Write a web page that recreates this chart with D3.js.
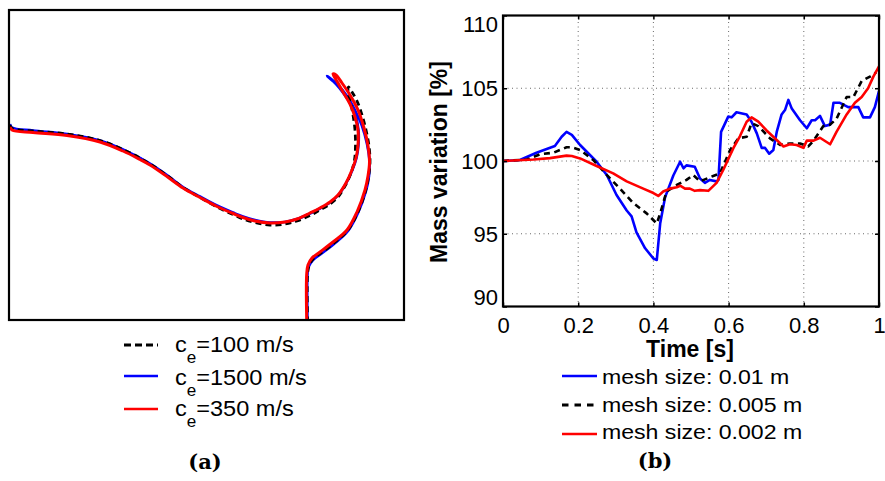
<!DOCTYPE html>
<html><head><meta charset="utf-8">
<script src="https://cdn.jsdelivr.net/npm/d3@7"></script>
<style>
body{margin:0;background:#fff}
svg{display:block}
text{font-family:"Liberation Sans",Arial,Helvetica,sans-serif;fill:#000}
</style>
</head><body>
<svg id="chart" width="885" height="481"></svg>
<script>
// ---------- Panel (a): free-surface shapes (arbitrary length units) ----------
const shapeCe100 = [[0.01,1.95],[0.03,1.915],[0.24,1.89],[0.58,1.86],[0.91,1.795],[1.14,1.705],[1.31,1.62],[1.41,1.56],[1.58,1.445],[1.74,1.325],[1.91,1.225],[2.08,1.13],[2.24,1.055],[2.34,1.01],[2.46,0.975],[2.61,0.95],[2.76,0.96],[2.88,0.99],[3.01,1.045],[3.11,1.10],[3.21,1.16],[3.29,1.23],[3.36,1.34],[3.42,1.47],[3.455,1.60],[3.465,1.75],[3.46,1.90],[3.445,2.02],[3.42,2.16],[3.39,2.28],[3.395,2.33],[3.43,2.28],[3.48,2.19],[3.53,2.05],[3.57,1.90],[3.60,1.74],[3.61,1.58],[3.595,1.43],[3.565,1.29],[3.49,1.08],[3.39,0.90],[3.25,0.77],[3.12,0.67],[3.04,0.61],[3.00,0.54],[2.985,0.45],[2.985,0.00]];
const shapeCe1500 = [[0.01,1.96],[0.03,1.925],[0.24,1.895],[0.58,1.86],[0.91,1.795],[1.14,1.705],[1.31,1.62],[1.41,1.565],[1.58,1.45],[1.74,1.33],[1.91,1.235],[2.08,1.145],[2.24,1.075],[2.34,1.035],[2.46,1.00],[2.61,0.975],[2.76,0.98],[2.88,1.01],[3.01,1.065],[3.11,1.115],[3.21,1.175],[3.29,1.245],[3.37,1.365],[3.43,1.49],[3.475,1.62],[3.495,1.75],[3.495,1.90],[3.47,2.03],[3.42,2.15],[3.35,2.26],[3.27,2.36],[3.18,2.44],[3.21,2.42],[3.29,2.35],[3.38,2.24],[3.46,2.10],[3.53,1.94],[3.58,1.76],[3.605,1.59],[3.60,1.44],[3.57,1.29],[3.49,1.07],[3.39,0.89],[3.25,0.76],[3.12,0.66],[3.04,0.60],[2.995,0.53],[2.985,0.45],[2.985,0.00]];
const shapeCe350 = [[0.01,1.93],[0.03,1.90],[0.24,1.875],[0.58,1.845],[0.91,1.78],[1.14,1.69],[1.31,1.605],[1.41,1.55],[1.58,1.435],[1.74,1.32],[1.91,1.225],[2.08,1.135],[2.24,1.065],[2.34,1.025],[2.46,0.99],[2.61,0.97],[2.76,0.98],[2.88,1.01],[3.01,1.07],[3.11,1.12],[3.21,1.18],[3.29,1.25],[3.37,1.37],[3.43,1.50],[3.47,1.62],[3.49,1.75],[3.49,1.90],[3.46,2.03],[3.41,2.16],[3.34,2.28],[3.29,2.37],[3.24,2.46],[3.27,2.45],[3.33,2.37],[3.41,2.25],[3.49,2.10],[3.55,1.92],[3.59,1.74],[3.605,1.58],[3.59,1.44],[3.56,1.30],[3.48,1.08],[3.38,0.90],[3.24,0.78],[3.11,0.68],[3.03,0.62],[2.99,0.55],[2.977,0.46],[2.977,0.00]];
const legendA = ["=100 m/s","=1500 m/s","=350 m/s"];

// ---------- Panel (b): mass variation ----------
const time001 = [0,0.045,0.089,0.138,0.156,0.169,0.183,0.205,0.249,0.276,0.302,0.329,0.342,0.355,0.378,0.400,0.409,0.418,0.431,0.453,0.471,0.480,0.488,0.510,0.524,0.537,0.550,0.568,0.573,0.580,0.599,0.608,0.621,0.648,0.661,0.675,0.688,0.697,0.708,0.719,0.728,0.741,0.750,0.759,0.768,0.790,0.808,0.821,0.830,0.843,0.856,0.870,0.879,0.896,0.918,0.945,0.958,0.976,0.989,1.0];
const mass001 = [100,100.07,100.57,101.03,101.67,102.0,101.8,101.1,99.95,99.04,97.66,96.6,96.2,95.1,94.0,93.3,93.2,95.7,97.5,99.0,99.95,99.5,99.7,99.6,98.8,98.5,98.7,98.6,98.7,102.0,103.05,103.0,103.35,103.2,102.7,101.9,100.9,100.9,100.5,100.75,102.0,103.2,103.5,104.2,103.6,102.8,102.25,102.8,102.8,103.1,102.4,102.5,104.0,104.0,103.7,103.7,103.0,103.0,103.7,104.8];
const time0005 = [0,0.063,0.098,0.134,0.169,0.183,0.205,0.240,0.276,0.311,0.347,0.382,0.409,0.418,0.435,0.462,0.488,0.506,0.524,0.559,0.577,0.604,0.626,0.648,0.661,0.679,0.710,0.737,0.763,0.790,0.812,0.826,0.852,0.870,0.887,0.914,0.932,0.954,0.976,0.993];
const mass0005 = [100,100.1,100.46,100.57,100.94,100.94,100.76,100.07,99.04,98.1,97.1,96.4,95.7,96.4,97.9,98.35,98.7,99.04,98.6,98.97,99.15,100.76,101.56,101.67,102.6,102.4,101.56,101.1,101.2,101.2,101.0,101.4,102.4,102.5,102.9,104.4,104.4,105.5,105.8,106.1];
const time0002 = [0,0.081,0.125,0.169,0.183,0.205,0.249,0.293,0.329,0.373,0.400,0.413,0.426,0.444,0.462,0.471,0.484,0.497,0.510,0.524,0.546,0.568,0.586,0.613,0.630,0.648,0.661,0.679,0.701,0.723,0.746,0.763,0.781,0.799,0.808,0.826,0.843,0.870,0.887,0.914,0.936,0.954,0.971,0.985,1.0];
const mass0002 = [100,100.1,100.2,100.37,100.34,100.18,99.66,99.15,98.6,98.1,97.8,97.6,97.9,98.1,98.2,98.3,98.1,98.1,97.95,98.0,97.95,98.5,99.4,100.9,101.7,102.7,103.0,102.7,102.1,101.56,101.0,101.15,101.1,100.9,101.4,101.4,101.6,101.15,102.0,103.2,104.0,104.4,105.0,105.8,106.5];
const legendB = ["mesh size: 0.01 m","mesh size: 0.005 m","mesh size: 0.002 m"];
const xTicks = [0,0.2,0.4,0.6,0.8,1];
const yTicks = [90,95,100,105,110];

const svg = d3.select("#chart");

// ===== Panel (a) =====
const xa = d3.scaleLinear().domain([0,3.95]).range([9,404]);
const ya = d3.scaleLinear().domain([0,3.10]).range([320,10]);
const lineA = d3.line().x(d=>xa(d[0])).y(d=>ya(d[1])).curve(d3.curveCatmullRom.alpha(0.5));
const gA = svg.append("g");
gA.append("clipPath").attr("id","clipA").append("rect")
  .attr("x",xa(0)).attr("y",ya(3.10)).attr("width",xa(3.95)-xa(0)).attr("height",ya(0)-ya(3.10));
const curvesA = gA.append("g").attr("clip-path","url(#clipA)");
curvesA.append("path").datum(shapeCe1500).attr("d",lineA).attr("fill","none").attr("stroke","#0000ff").attr("stroke-width",2.6).attr("stroke-linejoin","round");
curvesA.append("path").datum(shapeCe100).attr("d",lineA).attr("fill","none").attr("stroke","#000").attr("stroke-width",2.8).attr("stroke-dasharray","6,4");
curvesA.append("path").datum(shapeCe350).attr("d",lineA).attr("fill","none").attr("stroke","#ff0000").attr("stroke-width",3).attr("stroke-linejoin","round");
gA.append("rect").attr("x",xa(0)).attr("y",ya(3.10)).attr("width",xa(3.95)-xa(0)).attr("height",ya(0)-ya(3.10))
  .attr("fill","none").attr("stroke","#000").attr("stroke-width",2.2);

// legend (a)
const legAStyles = [{c:"#000",dash:"7,4"},{c:"#0000ff",dash:null},{c:"#ff0000",dash:null}];
const legAY = [345,376,409];
const legABase = [352,385,416];
legendA.forEach((lab,i)=>{
  const s = legAStyles[i];
  const l = svg.append("line").attr("x1",124).attr("x2",158).attr("y1",legAY[i]).attr("y2",legAY[i])
    .attr("stroke",s.c).attr("stroke-width",s.dash?3:2.5);
  if(s.dash) l.attr("stroke-dasharray",s.dash);
  const t = svg.append("text").attr("transform",`translate(175,${legABase[i]}) scale(1.07,1)`).style("font-size","22px");
  t.append("tspan").text("c");
  t.append("tspan").attr("dy",11).style("font-size","16px").text("e");
  t.append("tspan").attr("dy",-11).text(lab);
});
svg.append("text").attr("x",205).attr("y",469).attr("text-anchor","middle")
  .style("font-family","'DejaVu Serif','Liberation Serif',serif").style("font-weight","bold").style("font-size","21px").text("(a)");

// ===== Panel (b) =====
const xb = d3.scaleLinear().domain([0,1]).range([503,879]);
const yb = d3.scaleLinear().domain([90,110]).range([306.5,15.5]);
const gB = svg.append("g");

// grid
gB.append("g").selectAll("line").data(xTicks.slice(1,-1)).join("line")
  .attr("x1",d=>xb(d)).attr("x2",d=>xb(d)).attr("y1",yb(90)).attr("y2",yb(110))
  .attr("stroke","#444").attr("stroke-width",0.8).attr("stroke-dasharray","1,3.5");
gB.append("g").selectAll("line").data(yTicks.slice(1,-1)).join("line")
  .attr("y1",d=>yb(d)).attr("y2",d=>yb(d)).attr("x1",xb(0)).attr("x2",xb(1))
  .attr("stroke","#444").attr("stroke-width",0.8).attr("stroke-dasharray","1,3.5");

gB.append("clipPath").attr("id","clipB").append("rect")
  .attr("x",xb(0)).attr("y",yb(110)).attr("width",xb(1)-xb(0)).attr("height",yb(90)-yb(110));
const lineB = d3.line().x(d=>xb(d[0])).y(d=>yb(d[1]));
const seriesB = [
  {t:time001,m:mass001,c:"#0000ff",dash:null},
  {t:time0005,m:mass0005,c:"#000",dash:"6,4.5"},
  {t:time0002,m:mass0002,c:"#ff0000",dash:null}
];
const plotB = gB.append("g").attr("clip-path","url(#clipB)");
seriesB.forEach(s=>{
  const p = plotB.append("path").datum(s.t.map((v,i)=>[v,s.m[i]])).attr("d",lineB)
    .attr("fill","none").attr("stroke",s.c).attr("stroke-width",2.6).attr("stroke-linejoin","round");
  if(s.dash) p.attr("stroke-dasharray",s.dash);
});

// axes
const fmtX = d=> d===0||d===1 ? String(d) : d3.format(".1f")(d);
const axB = gB.append("g").attr("transform",`translate(0,${yb(90)})`)
  .call(d3.axisBottom(xb).tickValues(xTicks).tickFormat(fmtX).tickSizeInner(-4).tickSizeOuter(0).tickPadding(11));
const axL = gB.append("g").attr("transform",`translate(${xb(0)},0)`)
  .call(d3.axisLeft(yb).tickValues(yTicks).tickFormat(d3.format("d")).tickSizeInner(-4).tickSizeOuter(0).tickPadding(5));
const axT = gB.append("g").attr("transform",`translate(0,${yb(110)})`)
  .call(d3.axisTop(xb).tickValues(xTicks).tickFormat("").tickSizeInner(-4).tickSizeOuter(0));
const axR = gB.append("g").attr("transform",`translate(${xb(1)},0)`)
  .call(d3.axisRight(yb).tickValues(yTicks).tickFormat("").tickSizeInner(-4).tickSizeOuter(0));
[axB,axL,axT,axR].forEach(a=>{
  a.select(".domain").remove();
  a.selectAll(".tick line").attr("stroke","#000").attr("stroke-width",1.5);
  a.selectAll("text").style("font-size","22px").style("font-family","'Liberation Sans',Arial,sans-serif").attr("fill","#000");
});
axL.selectAll(".tick text").attr("dy",d=> d===110 ? "0.72em" : d===90 ? "-0.1em" : "0.34em");
gB.append("rect").attr("x",xb(0)).attr("y",yb(110)).attr("width",xb(1)-xb(0)).attr("height",yb(90)-yb(110))
  .attr("fill","none").attr("stroke","#000").attr("stroke-width",2.2);

// axis titles
svg.append("text").attr("x",690).attr("y",357).attr("text-anchor","middle")
  .style("font-weight","bold").style("font-size","23px").text("Time [s]");
svg.append("text").attr("transform","translate(447,162) rotate(-90)").attr("text-anchor","middle")
  .style("font-weight","bold").style("font-size","23px").text("Mass variation [%]");

// legend (b)
const legBY = [376,405,434];
const legBBase = [383.5,412,439];
seriesB.forEach((s,i)=>{
  const l = svg.append("line").attr("x1",562).attr("x2",597).attr("y1",legBY[i]).attr("y2",legBY[i])
    .attr("stroke",s.c).attr("stroke-width",s.dash?2.8:2.6);
  if(s.dash) l.attr("stroke-dasharray","6.5,6");
  svg.append("text").attr("transform",`translate(602,${legBBase[i]}) scale(1.1,1)`).style("font-size","21px").text(legendB[i]);
});
svg.append("text").attr("x",655).attr("y",468).attr("text-anchor","middle")
  .style("font-family","'DejaVu Serif','Liberation Serif',serif").style("font-weight","bold").style("font-size","21px").text("(b)");
</script>
</body></html>
